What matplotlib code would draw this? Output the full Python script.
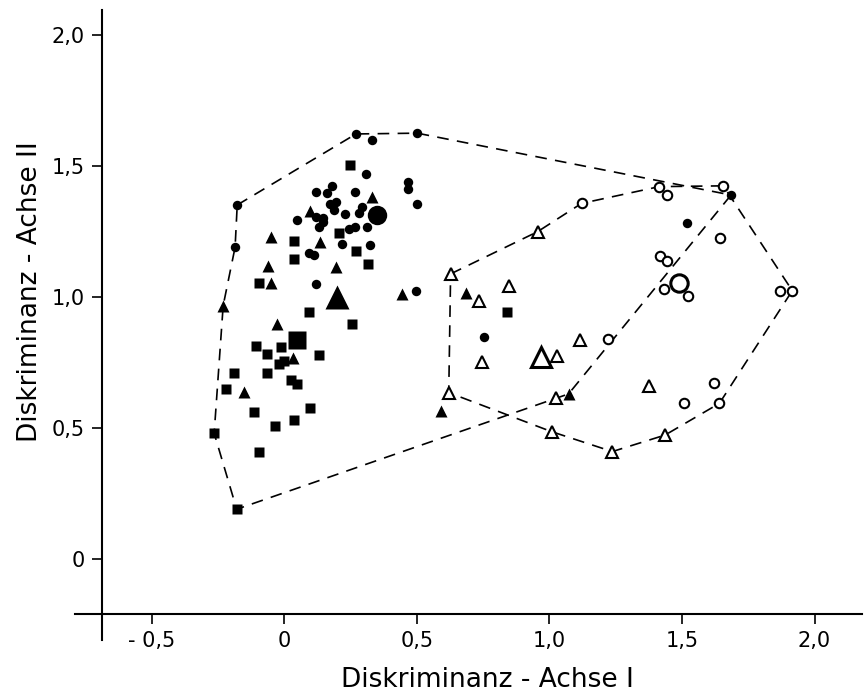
import numpy as np
import matplotlib.pyplot as plt

plt.rcParams['font.family'] = ['DejaVu Sans']

# filled symbols (group 1)
circ_x = [0.270, 0.331, 0.306, 0.501, 0.465, 0.467, 0.499, -0.178, -0.186, 0.119,
          0.159, 0.180, 0.265, 0.172, 0.194, 0.187, 0.228, 0.294, 0.281, 0.119,
          0.144, 0.147, 0.046, 0.129, 0.310, 0.243, 0.265, 0.216, 0.324, 0.094,
          0.113, 0.121, 0.495, 0.753, 1.518, 1.685]
circ_y = [1.622, 1.599, 1.469, 1.625, 1.440, 1.412, 1.354, 1.351, 1.190, 1.402,
          1.396, 1.425, 1.401, 1.355, 1.364, 1.332, 1.316, 1.342, 1.319, 1.306,
          1.300, 1.287, 1.294, 1.268, 1.266, 1.258, 1.268, 1.201, 1.197, 1.169,
          1.160, 1.050, 1.023, 0.846, 1.281, 1.389]

sq_x = [0.247, 0.207, 0.036, 0.271, 0.035, 0.316, -0.095, 0.094, 0.256, -0.108,
        -0.065, -0.011, 0.131, -0.020, -0.002, -0.192, -0.067, 0.023, 0.046, -0.222,
        -0.114, 0.096, 0.035, -0.035, -0.265, -0.094, -0.180, 0.838]
sq_y = [1.504, 1.243, 1.215, 1.176, 1.144, 1.125, 1.052, 0.944, 0.897, 0.813,
        0.784, 0.810, 0.780, 0.744, 0.755, 0.711, 0.711, 0.683, 0.668, 0.650,
        0.561, 0.576, 0.532, 0.506, 0.480, 0.410, 0.190, 0.941]

tri_x = [0.331, 0.096, -0.052, 0.134, -0.063, 0.196, -0.050, 0.443, -0.231, -0.029,
         0.033, -0.152, 0.684, 0.591, 1.072]
tri_y = [1.380, 1.329, 1.230, 1.211, 1.120, 1.115, 1.052, 1.011, 0.967, 0.897,
         0.766, 0.636, 1.014, 0.566, 0.630]

# open symbols (group 2)
otri_x = [0.627, 0.955, 0.846, 0.735, 0.747, 1.027, 1.115, 0.620, 1.025, 1.008,
          1.237, 1.377, 1.436]
otri_y = [1.088, 1.249, 1.042, 0.985, 0.752, 0.775, 0.836, 0.635, 0.616, 0.486,
          0.410, 0.660, 0.473]

ocirc_x = [1.121, 1.414, 1.442, 1.656, 1.645, 1.417, 1.445, 1.432, 1.524, 1.870,
           1.916, 1.220, 1.621, 1.509, 1.641]
ocirc_y = [1.357, 1.421, 1.388, 1.424, 1.224, 1.158, 1.139, 1.029, 1.004, 1.024,
           1.024, 0.838, 0.673, 0.594, 0.594]

# group means
mean_circ = (0.348, 1.313)
mean_sq = (0.046, 0.836)
mean_tri = (0.197, 1.001)
mean_otri = (0.967, 0.770)
mean_ocirc = (1.489, 1.055)

# dashed outlines
hull1_x = [-0.178, 0.270, 0.501, 1.685, 1.072, -0.180, -0.265, -0.231, -0.186, -0.178]
hull1_y = [1.351, 1.622, 1.625, 1.389, 0.630, 0.190, 0.480, 0.967, 1.190, 1.351]
hull2_x = [0.627, 0.955, 1.121, 1.414, 1.656, 1.916, 1.641, 1.436, 1.237, 1.008, 0.620, 0.627]
hull2_y = [1.088, 1.249, 1.357, 1.421, 1.424, 1.024, 0.594, 0.473, 0.410, 0.486, 0.635, 1.088]

xticks = [-0.5, 0, 0.5, 1.0, 1.5, 2.0]
xtick_labels = ['- 0,5', '0', '0,5', '1,0', '1,5', '2,0']
yticks = [0, 0.5, 1.0, 1.5, 2.0]
ytick_labels = ['0', '0,5', '1,0', '1,5', '2,0']

fig = plt.figure(figsize=(8.64, 7.0), dpi=100)
ax = fig.add_axes([75/864, 60/700, 787/864, 630/700])
ax.set_xlim(-0.790, 2.179)
ax.set_ylim(-0.309, 2.095)

dash = dict(color='black', lw=1.2, dashes=(7, 5))
ax.plot(hull1_x, hull1_y, **dash)
ax.plot(hull2_x, hull2_y, **dash)

ax.plot(circ_x, circ_y, 'o', color='black', ms=6.8, mec='none')
ax.plot(sq_x, sq_y, 's', color='black', ms=6.5, mec='none')
ax.plot(tri_x, tri_y, '^', color='black', ms=8.5, mec='none')
ax.plot(otri_x, otri_y, '^', mfc='white', mec='black', mew=1.5, ms=8)
ax.plot(ocirc_x, ocirc_y, 'o', mfc='white', mec='black', mew=1.5, ms=6.8)

ax.plot(*mean_circ, 'o', color='black', ms=14, mec='none')
ax.plot(*mean_sq, 's', color='black', ms=12.5, mec='none')
ax.plot(*mean_tri, '^', color='black', ms=17, mec='none')
ax.plot(*mean_otri, '^', mfc='white', mec='black', mew=2.2, ms=15)
ax.plot(*mean_ocirc, 'o', mfc='white', mec='black', mew=2.2, ms=12.5)

# axes cross at their own positions
ax.spines['top'].set_visible(False)
ax.spines['right'].set_visible(False)
ax.spines['left'].set_position(('data', -0.69))
ax.spines['bottom'].set_position(('data', -0.21))
ax.spines['left'].set_linewidth(1.5)
ax.spines['bottom'].set_linewidth(1.5)

ax.set_xticks(xticks)
ax.set_xticklabels(xtick_labels)
ax.set_yticks(yticks)
ax.set_yticklabels(ytick_labels)
ax.tick_params(direction='out', length=7, width=1.2, labelsize=15, pad=5)

fig.text(487/864, 1 - 680/700, 'Diskriminanz - Achse I', ha='center', va='center', fontsize=19)
fig.text(30/864, 1 - 292/700, 'Diskriminanz - Achse II', ha='center', va='center',
         rotation=90, fontsize=19)

plt.savefig('out.png', dpi=100)
